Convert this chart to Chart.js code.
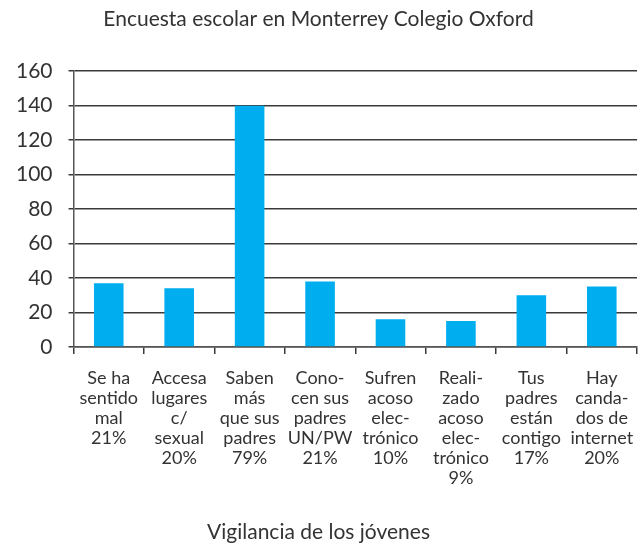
<!DOCTYPE html>
<html>
<head>
<meta charset="utf-8">
<script src="https://cdn.jsdelivr.net/npm/chart.js@4"></script>
<style>
  html, body { margin: 0; padding: 0; background: #fff; }
  #wrap { width: 638px; height: 548px; }
</style>
</head>
<body>
<div id="wrap"><canvas id="grafica"></canvas></div>
<script>
// categorias (cada una en varias lineas, como en el original)
const categorias = [
  ['Se ha', 'sentido', 'mal', '21%'],
  ['Accesa', 'lugares', 'c/', 'sexual', '20%'],
  ['Saben', 'más', 'que sus', 'padres', '79%'],
  ['Cono-', 'cen sus', 'padres', 'UN/PW', '21%'],
  ['Sufren', 'acoso', 'elec-', 'trónico', '10%'],
  ['Reali-', 'zado', 'acoso', 'elec-', 'trónico', '9%'],
  ['Tus', 'padres', 'están', 'contigo', '17%'],
  ['Hay', 'canda-', 'dos de', 'internet', '20%']
];
const valores = [37, 34, 140, 38, 16, 15, 30, 35];
const ticksY = [0, 20, 40, 60, 80, 100, 120, 140, 160];

const fuente = 'Lato, "DejaVu Sans", sans-serif';
const gris = '#333';

const ctx = document.getElementById('grafica').getContext('2d');

new Chart(ctx, {
  type: 'bar',
  data: {
    labels: categorias,
    datasets: [{
      label: 'Vigilancia',
      data: valores,
      backgroundColor: '#00adef',
      barPercentage: 0.42,
      categoryPercentage: 1
    }]
  },
  options: {
    responsive: true,
    maintainAspectRatio: false,
    animation: false,
    layout: { padding: { left: 0, right: 1, top: 0, bottom: 3 } },
    plugins: {
      legend: { display: false },
      tooltip: { enabled: false },
      title: {
        display: true,
        text: 'Encuesta escolar en Monterrey Colegio Oxford',
        color: gris,
        font: { family: fuente, size: 21, weight: 'normal' },
        padding: { top: 7, bottom: 39 }
      },
      subtitle: {
        display: true,
        position: 'bottom',
        text: 'Vigilancia de los jóvenes',
        color: gris,
        font: { family: fuente, size: 21, weight: 'normal' },
        padding: { top: 18, bottom: 0 }
      }
    },
    scales: {
      y: {
        min: 0,
        max: 160,
        afterBuildTicks: (axis) => { axis.ticks = ticksY.map(v => ({ value: v })); },
        ticks: {
          color: gris,
          font: { family: fuente, size: 21 },
          padding: 16
        },
        grid: {
          color: '#3a3a3a',
          lineWidth: 1.5,
          tickLength: 5
        },
        border: { color: '#555', width: 1.5 }
      },
      x: {
        // que las etiquetas no reserven espacio a los lados
        afterFit: (s) => { s.paddingLeft = 0; s.paddingRight = 0; },
        ticks: {
          color: gris,
          font: { family: fuente, size: 18, lineHeight: 1.11 },
          padding: 14,
          maxRotation: 0,
          autoSkip: false
        },
        grid: {
          offset: true,
          drawOnChartArea: false,
          color: '#3a3a3a',
          lineWidth: 1.5,
          tickLength: 7
        },
        border: { color: '#555', width: 1.5 }
      }
    }
  }
});
</script>
</body>
</html>
